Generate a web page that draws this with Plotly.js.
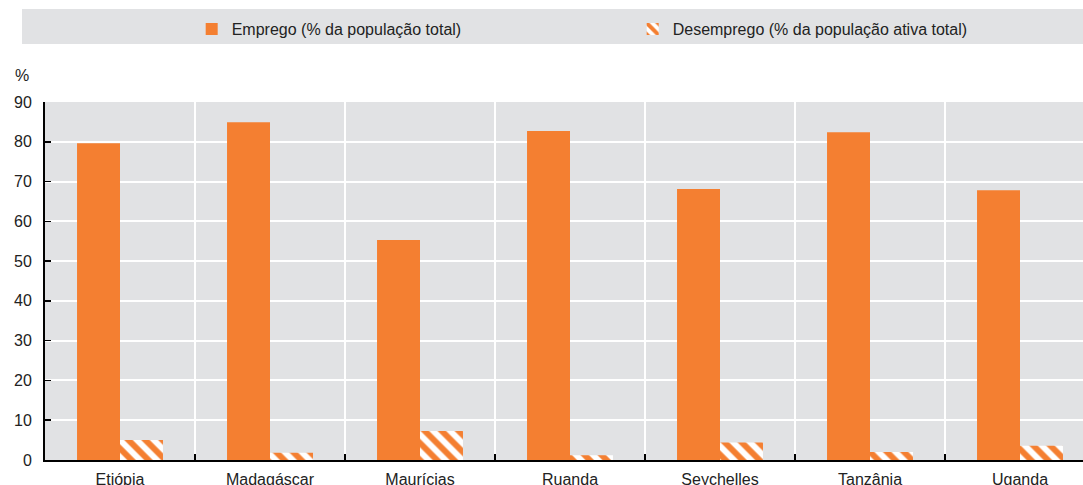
<!DOCTYPE html>
<html>
<head>
<meta charset="utf-8">
<script src="https://cdn.plot.ly/plotly-3.0.1.min.js"></script>
<style>
  html, body { margin: 0; padding: 0; background: #fff; }
  #chart { width: 1083px; height: 485px; }
</style>
</head>
<body>
<div id="chart"></div>
<script>
// countries and values
var paises = ["Etiópia", "Madagáscar", "Maurícias", "Ruanda", "Seychelles", "Tanzânia", "Uganda"];
var emprego = [79.6, 84.9, 55.3, 82.7, 68.1, 82.4, 67.8];
var desemprego = [5.0, 1.8, 7.3, 1.2, 4.4, 2.0, 3.6];

var laranja = '#f47f31';
var fundo = '#e1e2e4';
var fonte = '"Liberation Sans Narrow", "Arial Narrow", "Liberation Sans", sans-serif';

var data = [
    {
        type: 'bar',
        name: 'Emprego (% da população total)',
        x: paises,
        y: emprego,
        marker: { color: laranja, line: { width: 0 } }
    },
    {
        type: 'bar',
        name: 'Desemprego (% da população ativa total)',
        x: paises,
        y: desemprego,
        marker: {
            color: '#ffffff',
            line: { width: 0 },
            pattern: { shape: '\\', fgcolor: laranja, bgcolor: '#ffffff', size: 12, solidity: 0.5, fillmode: 'replace' }
        }
    }
];

var layout = {
    width: 1083,
    height: 485,
    margin: { l: 45, r: 0, t: 102, b: 25 },
    paper_bgcolor: '#ffffff',
    plot_bgcolor: fundo,
    barmode: 'group',
    bargap: 0.427,
    bargroupgap: 0,
    font: { family: fonte, size: 16, color: '#222222' },
    showlegend: true,
    legend: {
        orientation: 'h',
        xref: 'container', yref: 'container',
        x: 0.177, xanchor: 'left',
        y: 0.94, yanchor: 'middle',
        bgcolor: 'rgba(0,0,0,0)',
        font: { family: fonte, size: 16, color: '#222222' },
        entrywidth: 396,
        entrywidthmode: 'pixels',
        traceorder: 'normal'
    },
    xaxis: {
        type: 'category',
        range: [-0.5, 6.42],
        tickson: 'boundaries',
        ticks: 'inside',
        ticklen: 6,
        tickwidth: 1.5,
        tickcolor: '#000000',
        showline: true,
        linecolor: '#000000',
        linewidth: 2,
        showgrid: true,
        gridcolor: '#ffffff',
        gridwidth: 2,
        ticklabelstandoff: 4,
        fixedrange: true
    },
    yaxis: {
        range: [0, 90],
        dtick: 10,
        ticks: 'inside',
        ticklen: 6,
        tickwidth: 1.5,
        tickcolor: '#000000',
        showline: true,
        linecolor: '#000000',
        linewidth: 2,
        showgrid: true,
        gridcolor: '#ffffff',
        gridwidth: 2,
        zeroline: false,
        ticklabelstandoff: 8,
        fixedrange: true
    },
    shapes: [
        {
            type: 'rect', xref: 'paper', yref: 'paper', layer: 'below',
            x0: -23 / 1038, x1: 1, y0: (460 - 9) / 358, y1: (460 - 44) / 358,
            fillcolor: fundo, line: { width: 0 }
        }
    ],
    annotations: [
        {
            text: '%', xref: 'paper', yref: 'paper',
            x: -23 / 1038, y: (460 - 75) / 358,
            xanchor: 'center', yanchor: 'middle',
            showarrow: false,
            font: { family: fonte, size: 16, color: '#222222' }
        }
    ]
};

Plotly.newPlot('chart', data, layout, { displayModeBar: false, staticPlot: true });
</script>
</body>
</html>
